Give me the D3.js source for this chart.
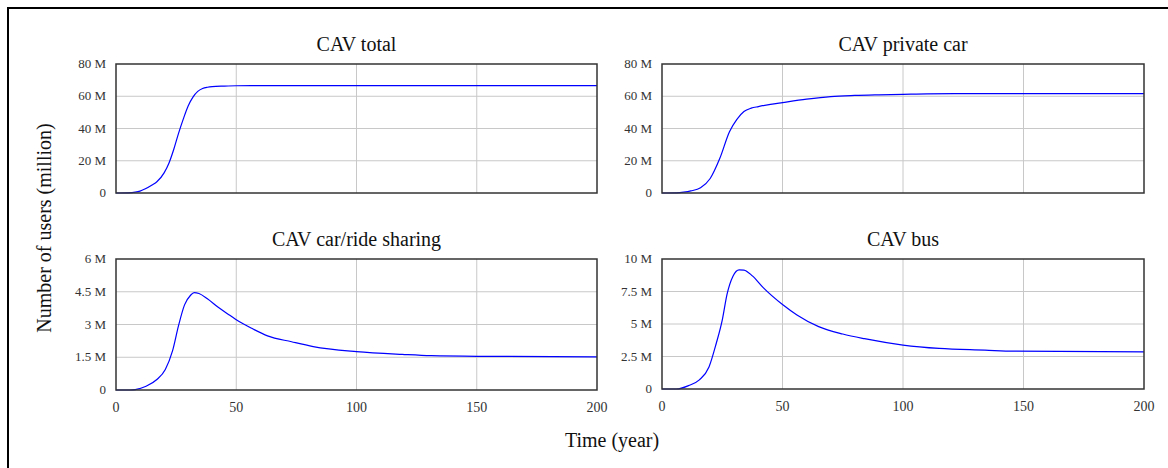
<!DOCTYPE html>
<html>
<head>
<meta charset="utf-8">
<script src="https://cdn.jsdelivr.net/npm/d3@7"></script>
<style>
  body { margin: 0; background: #fff; }
  svg { display: block; font-family: "Liberation Serif", "Times New Roman", serif; }
</style>
</head>
<body>
<div id="chart"></div>
<script>
// time axis (years)
const xTicks = [0, 50, 100, 150, 200];

// CAV total (million users)
const totalT = [0, 5, 8, 10, 12, 15, 17, 20, 22, 24, 26, 28, 30, 32, 34, 36, 38, 40, 45, 50, 60, 100, 150, 200];
const totalV = [0, 0.1, 0.5, 1.2, 2.5, 5, 7, 12.5, 18.5, 27, 37, 46, 54, 59.5, 63, 64.8, 65.6, 66, 66.3, 66.5, 66.6, 66.6, 66.6, 66.6];

// CAV private car
const privateT = [0, 6, 9, 12, 16, 20, 24, 28, 31, 34, 37, 40, 45, 50, 60, 70, 80, 90, 100, 110, 130, 150, 200];
const privateV = [0, 0.1, 0.5, 1.3, 3.3, 9, 21.5, 38, 45.5, 50.5, 52.6, 53.6, 55, 56.1, 58.2, 59.8, 60.5, 60.9, 61.2, 61.5, 61.6, 61.6, 61.6];

// CAV car/ride sharing
const sharingT = [0, 6, 8, 12.5, 17, 20.5, 23.5, 26, 28.5, 31, 32.5, 34.5, 38, 42.5, 47.5, 50.5, 57, 63, 73, 82, 100, 119, 131, 155, 200];
const sharingV = [0, 0, 0.02, 0.17, 0.48, 0.94, 1.79, 2.95, 3.9, 4.34, 4.46, 4.42, 4.18, 3.79, 3.41, 3.18, 2.79, 2.48, 2.21, 1.99, 1.76, 1.63, 1.57, 1.54, 1.52];

// CAV bus
const busT = [0, 6, 11, 15.5, 19.5, 22.5, 25, 27, 29.5, 32, 34, 37.5, 42, 50, 56, 65, 75, 84, 100, 115, 134, 146, 200];
const busV = [0, 0, 0.26, 0.7, 1.69, 3.5, 5.3, 7.3, 8.7, 9.17, 9.15, 8.7, 7.8, 6.5, 5.7, 4.8, 4.23, 3.87, 3.38, 3.12, 2.99, 2.91, 2.86];

// y ticks for each panel
const totalTicks = [0, 20, 40, 60, 80];
const totalLabels = ["0", "20 M", "40 M", "60 M", "80 M"];
const sharingTicks = [0, 1.5, 3, 4.5, 6];
const sharingLabels = ["0", "1.5 M", "3 M", "4.5 M", "6 M"];
const busTicks = [0, 2.5, 5, 7.5, 10];
const busLabels = ["0", "2.5 M", "5 M", "7.5 M", "10 M"];

const W = 1168, H = 468;

const svg = d3.select("#chart").append("svg").attr("width", W).attr("height", H);

// outer frame
svg.append("rect").attr("x", 8).attr("y", 8).attr("width", W + 10).attr("height", H + 10)
  .attr("fill", "none").attr("stroke", "#000").attr("stroke-width", 2);

const panels = [
  { title: "CAV total", t: totalT, v: totalV, ticks: totalTicks, labels: totalLabels, x0: 116, x1: 597, y0: 64, y1: 193, xlab: false },
  { title: "CAV private car", t: privateT, v: privateV, ticks: totalTicks, labels: totalLabels, x0: 662, x1: 1144, y0: 64, y1: 193, xlab: false },
  { title: "CAV car/ride sharing", t: sharingT, v: sharingV, ticks: sharingTicks, labels: sharingLabels, x0: 116, x1: 597, y0: 259, y1: 390, xlab: true },
  { title: "CAV bus", t: busT, v: busV, ticks: busTicks, labels: busLabels, x0: 662, x1: 1144, y0: 259, y1: 389, xlab: true }
];

panels.forEach(function (p) {
  const x = d3.scaleLinear().domain([0, 200]).range([p.x0, p.x1]);
  const y = d3.scaleLinear().domain([0, p.ticks[p.ticks.length - 1]]).range([p.y1, p.y0]);
  const g = svg.append("g");

  // grid
  g.selectAll(".vg").data(xTicks.slice(1, -1)).enter().append("line")
    .attr("x1", d => x(d)).attr("x2", d => x(d)).attr("y1", p.y0).attr("y2", p.y1)
    .attr("stroke", "#c8c8c8").attr("stroke-width", 1);
  g.selectAll(".hg").data(p.ticks.slice(1, -1)).enter().append("line")
    .attr("x1", p.x0).attr("x2", p.x1).attr("y1", d => y(d)).attr("y2", d => y(d))
    .attr("stroke", "#c8c8c8").attr("stroke-width", 1);

  // y tick labels
  g.selectAll(".yl").data(p.ticks).enter().append("text")
    .attr("x", p.x0 - 10).attr("y", d => y(d)).attr("dy", "0.32em")
    .attr("text-anchor", "end").attr("font-size", 13).attr("fill", "#333")
    .text((d, i) => p.labels[i]);

  // x tick labels
  if (p.xlab) {
    g.selectAll(".xl").data(xTicks).enter().append("text")
      .attr("x", d => x(d)).attr("y", p.y1 + 22)
      .attr("text-anchor", "middle").attr("font-size", 14).attr("fill", "#333")
      .text(d => d);
  }

  // the curve
  const pts = p.t.map((t, i) => [t, p.v[i]]);
  g.append("path").datum(pts)
    .attr("d", d3.line().x(d => x(d[0])).y(d => y(d[1])).curve(d3.curveMonotoneX))
    .attr("fill", "none").attr("stroke", "#0000ff").attr("stroke-width", 1.2);

  // border
  g.append("rect").attr("x", p.x0).attr("y", p.y0).attr("width", p.x1 - p.x0).attr("height", p.y1 - p.y0)
    .attr("fill", "none").attr("stroke", "#333").attr("stroke-width", 1.5);

  // title
  g.append("text").attr("x", (p.x0 + p.x1) / 2).attr("y", p.y0 - 13)
    .attr("text-anchor", "middle").attr("font-size", 20).attr("fill", "#111")
    .text(p.title);
});

// axis titles
svg.append("text").attr("transform", "translate(51,228) rotate(-90)")
  .attr("text-anchor", "middle").attr("font-size", 20).attr("fill", "#111")
  .text("Number of users (million)");
svg.append("text").attr("x", 612).attr("y", 447)
  .attr("text-anchor", "middle").attr("font-size", 20).attr("fill", "#111")
  .text("Time (year)");
</script>
</body>
</html>
